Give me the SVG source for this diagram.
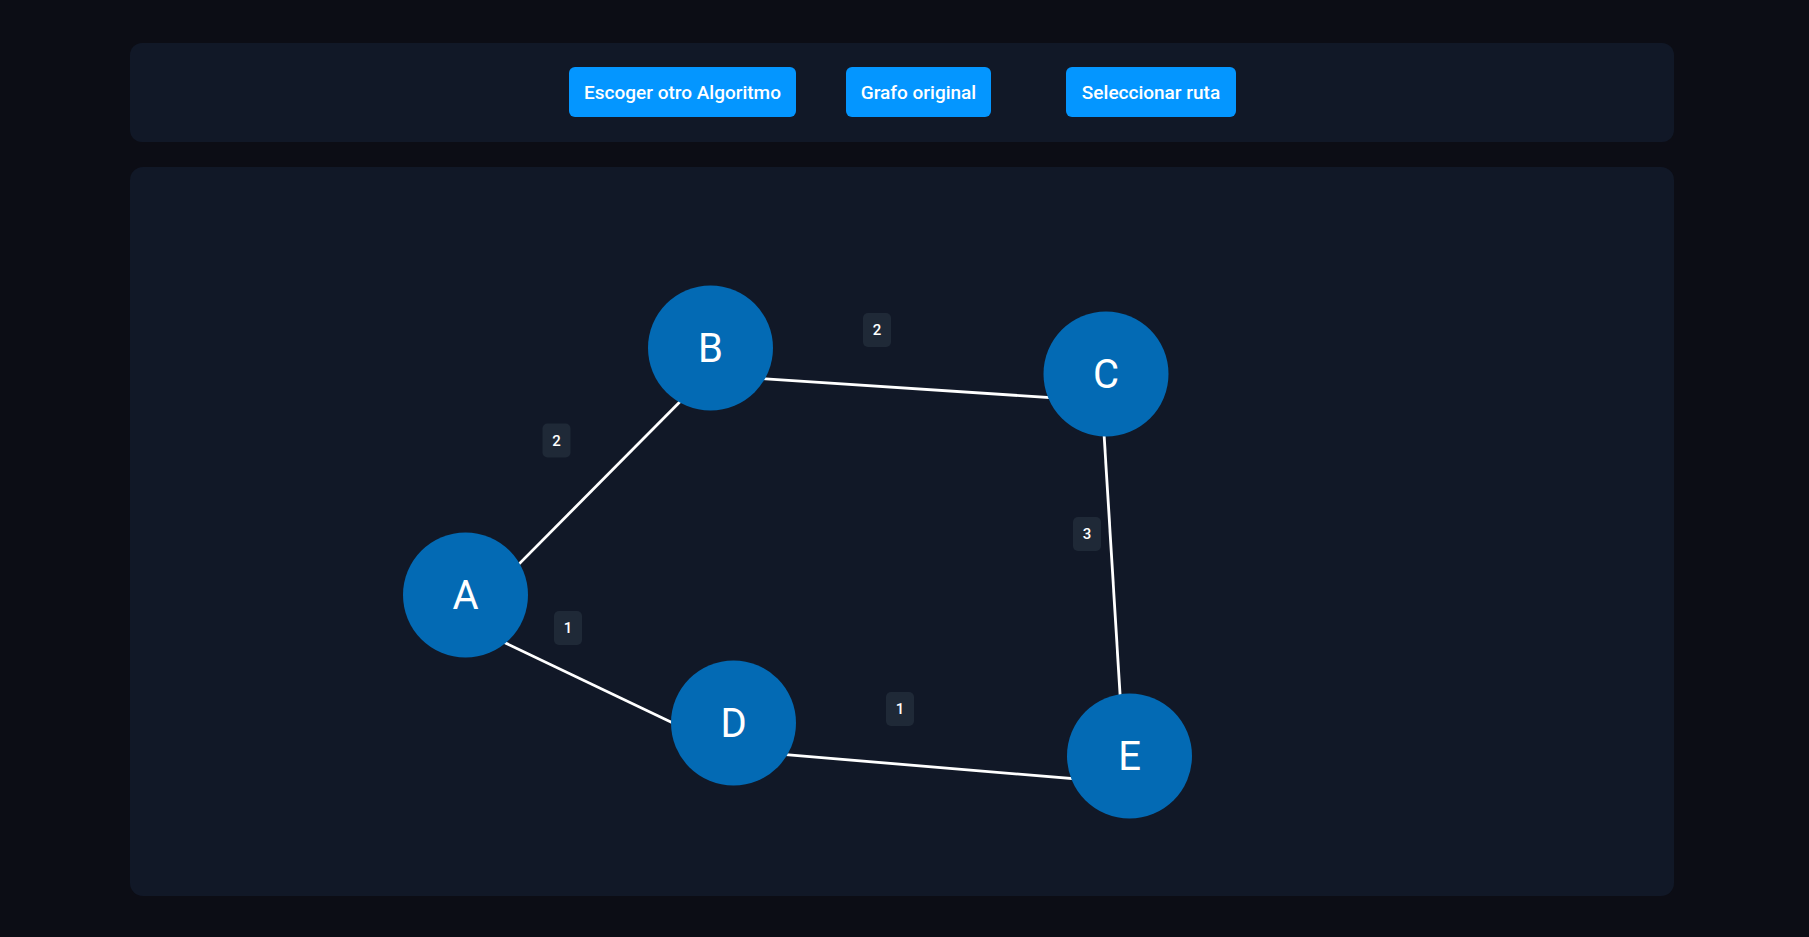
<svg xmlns="http://www.w3.org/2000/svg" width="1809" height="937" viewBox="0 0 1809 937">
<style>
.panel{fill:#111827}
.btn rect{fill:#0496ff}
.btn text{fill:#ffffff;font-family:Roboto,"Liberation Sans",sans-serif;font-size:19px;font-weight:500;text-anchor:middle;dominant-baseline:central}
.node circle{fill:#036ab4}
.node text{fill:#ffffff;font-family:Roboto,"Liberation Sans",sans-serif;font-size:40px;text-anchor:middle;dominant-baseline:central}
.edge{stroke:#ffffff;stroke-width:2.8;fill:none}
.lbl rect{fill:#1f2937}
.lbl text{fill:#ffffff;font-family:Roboto,"Liberation Sans",sans-serif;font-size:15px;font-weight:500;text-anchor:middle;dominant-baseline:central}
</style>
<rect width="1809" height="937" fill="#0c0d15"/>
<rect class="panel" x="130" y="43" width="1544" height="99" rx="12"/>
<rect class="panel" x="130" y="167" width="1544" height="729" rx="13"/>
<g id="btn-algoritmo" class="btn"><rect x="569" y="67" width="227" height="50" rx="6"/><text x="682.5" y="92">Escoger otro Algoritmo</text></g>
<g id="btn-original" class="btn"><rect x="846" y="67" width="145" height="50" rx="6"/><text x="918.5" y="92">Grafo original</text></g>
<g id="btn-ruta" class="btn"><rect x="1066" y="67" width="170" height="50" rx="6"/><text x="1151" y="92">Seleccionar ruta</text></g>
<g id="connectors">
<line class="edge" x1="461.5" y1="622" x2="706.5" y2="375"/>
<line class="edge" x1="706.5" y1="375" x2="1102" y2="401"/>
<line class="edge" x1="1102" y1="401" x2="1125.5" y2="783"/>
<line class="edge" x1="461.5" y1="622" x2="729.5" y2="750"/>
<line class="edge" x1="729.5" y1="750" x2="1125.5" y2="783"/>
<g class="lbl"><rect x="542.5" y="423.5" width="28" height="34" rx="5"/><text x="556.5" y="440.5">2</text></g>
<g class="lbl"><rect x="863" y="313" width="28" height="34" rx="5"/><text x="877" y="330">2</text></g>
<g class="lbl"><rect x="1073" y="517" width="28" height="34" rx="5"/><text x="1087" y="534">3</text></g>
<g class="lbl"><rect x="554" y="611" width="28" height="34" rx="5"/><text x="568" y="628">1</text></g>
<g class="lbl"><rect x="886" y="692" width="28" height="34" rx="5"/><text x="900" y="709">1</text></g>
</g>
<g id="node-A" class="node"><circle cx="465.5" cy="595" r="62.5"/><text x="465.5" y="595">A</text></g>
<g id="node-B" class="node"><circle cx="710.5" cy="348" r="62.5"/><text x="710.5" y="348">B</text></g>
<g id="node-C" class="node"><circle cx="1106" cy="374" r="62.5"/><text x="1106" y="374">C</text></g>
<g id="node-D" class="node"><circle cx="733.5" cy="723" r="62.5"/><text x="733.5" y="723">D</text></g>
<g id="node-E" class="node"><circle cx="1129.5" cy="756" r="62.5"/><text x="1129.5" y="756">E</text></g>
</svg>
